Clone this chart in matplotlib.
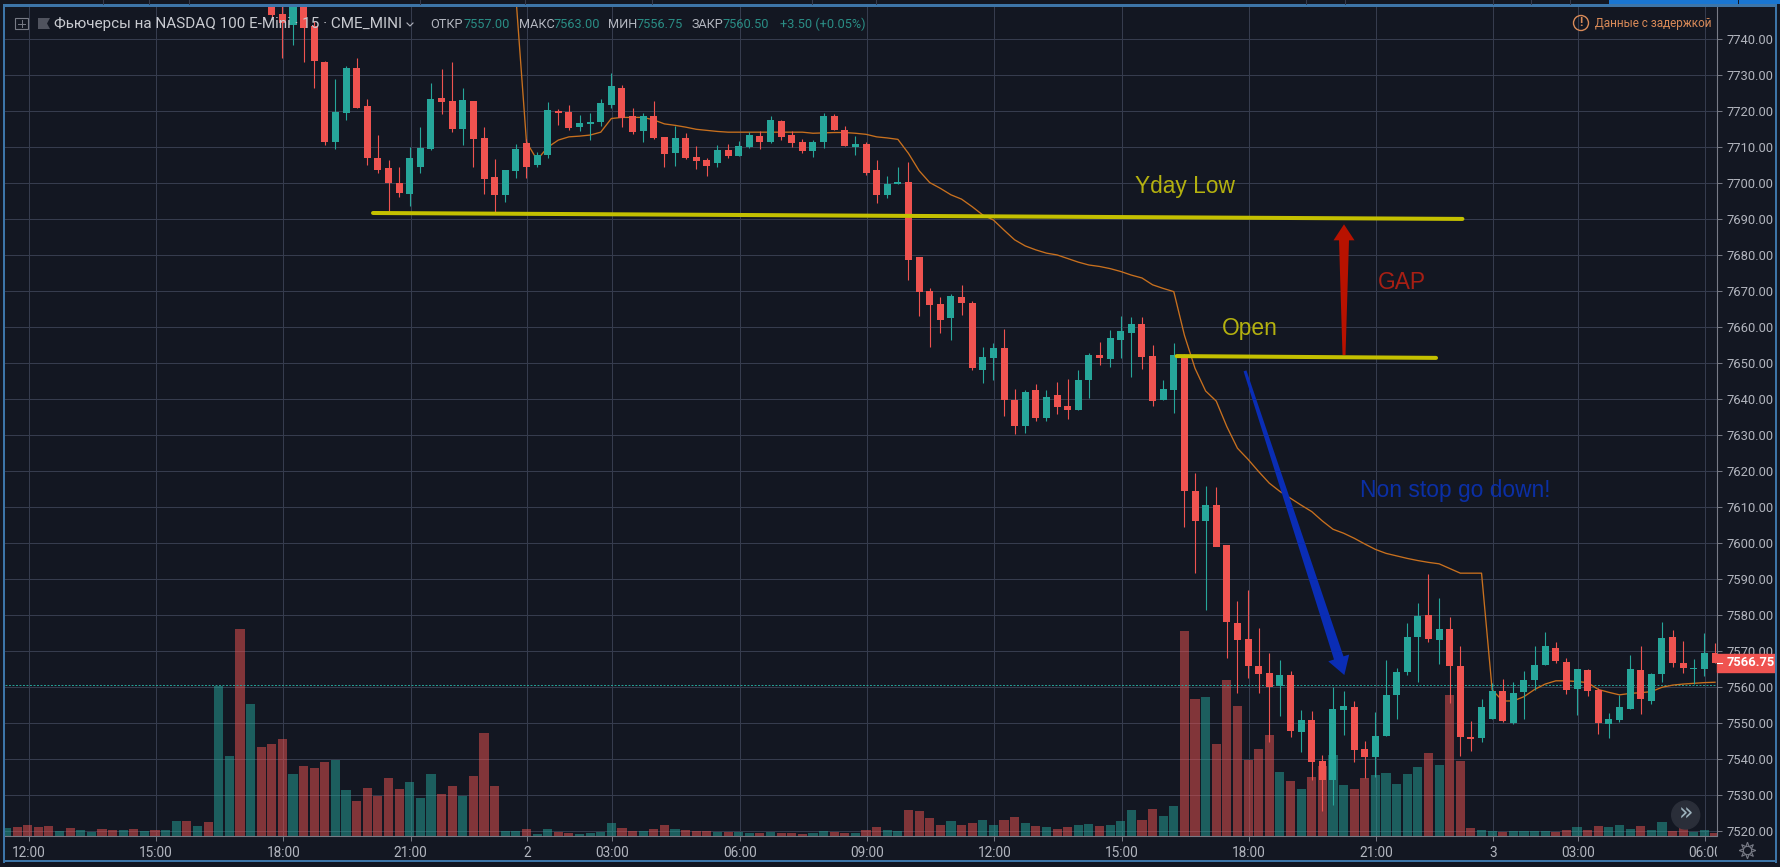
"""Nasdaq 100 E-mini 15 minute chart with hand drawn gap annotations."""

import numpy as np
from matplotlib import pyplot as plt
from matplotlib.lines import Line2D
from matplotlib.patches import Circle, Polygon, Rectangle
from matplotlib.transforms import Bbox

# Candles start at bar 23, earlier ones are above the visible range
FIRST_CANDLE = 23
OPENS = [
    7751, 7747, 7744, 7752, 7743.7, 7733.7, 7711.5, 7719.6, 7732, 7721.4,
    7707, 7704.2, 7700.1, 7697.1, 7704.6, 7709.5, 7723.7, 7722.9, 7715.1, 7722.9,
    7712.6, 7701.8, 7696.8, 7703.4, 7711.2, 7705.1, 7707.9, 7720.1, 7719.8, 7715.6,
    7716.5, 7717.1, 7721.8, 7726.5, 7718.7, 7714.5, 7718.7, 7712.9, 7708.4, 7712.6,
    7707.3, 7706.5, 7705.6, 7709.3, 7707.6, 7710.1, 7713.1, 7711.5, 7717.3, 7713.4,
    7711.5, 7709, 7711.5, 7718.7, 7714.8, 7710.1, 7710.9, 7703.7, 7696.8, 7699.8,
    7700.4, 7679.4, 7670.2, 7666.5, 7662.7, 7668.4, 7666.8, 7648.1, 7651.5, 7654.3,
    7639.8, 7632.6, 7642.6, 7634.8, 7641.2, 7638.1, 7637, 7645.4, 7652.3, 7651.2,
    7656.5, 7658.4, 7660.9, 7652, 7639.8, 7642.6, 7652, 7614.5, 7606.2, 7610.6,
    7599.5, 7577.9, 7573.4, 7565.9, 7564, 7560.4, 7563.4, 7547.6, 7550.9, 7539.5,
    7534.3, 7553.7, 7554.5, 7542.9, 7540.6, 7546.5, 7557.9, 7564.3, 7574, 7580.1,
    7573.1, 7576.2, 7565.9, 7546.2, 7545.9, 7551.2, 7559, 7550.1, 7558.7, 7562,
    7566.2, 7570.9, 7567, 7559.5, 7564.8, 7559.3, 7549.8, 7550.9, 7554, 7564.8,
    7556.2, 7563.7, 7574, 7566.8, 7565, 7565.1, 7569.5,
]
HIGHS = [
    7755, 7752, 7755, 7755, 7745, 7733.9, 7729, 7732.6, 7734.7, 7723.4,
    7713.4, 7706.5, 7704.4, 7710, 7715.6, 7727.8, 7731.7, 7733.7, 7726.4, 7722.9,
    7715.6, 7706.8, 7703.7, 7710.9, 7712.2, 7708.7, 7722.6, 7720.6, 7721.8, 7719,
    7719.5, 7723.5, 7730.6, 7727.3, 7720.9, 7719.5, 7722.9, 7712.9, 7715.9, 7713.9,
    7710.4, 7706.9, 7710.6, 7710.9, 7711.8, 7714.3, 7714.5, 7718.7, 7717.6, 7714.5,
    7712.3, 7712, 7719.5, 7719.3, 7715.9, 7713.1, 7711.5, 7706.5, 7702, 7704.5,
    7705.9, 7679.4, 7670.8, 7668.3, 7669.3, 7671.8, 7667.3, 7654.5, 7655.6, 7659.5,
    7642.9, 7642.6, 7644.3, 7642.6, 7644.8, 7645.6, 7648.1, 7652.9, 7655.9, 7659.3,
    7663.1, 7662.9, 7662.9, 7655.1, 7645.4, 7655.6, 7652.5, 7619.4, 7615.9, 7615.6,
    7599.5, 7583.9, 7587, 7576.5, 7569.5, 7567.6, 7564.5, 7553.7, 7553.4, 7541.2,
    7560.1, 7559, 7556.2, 7545.1, 7553.1, 7567.6, 7565.4, 7577.9, 7583.4, 7591.5,
    7584.8, 7579.5, 7571.5, 7550.6, 7556.8, 7561.2, 7562.3, 7561.5, 7564.5, 7571.5,
    7575.4, 7572.6, 7568.1, 7564.9, 7565.1, 7559.8, 7552.9, 7557.9, 7569, 7571.5,
    7564, 7578.1, 7575.9, 7572.9, 7567.9, 7575.1, 7572.3,
]
LOWS = [
    7746, 7734.9, 7738.4, 7733.8, 7726.4, 7710.5, 7709.6, 7717.6, 7721, 7705,
    7702.9, 7692.1, 7696.3, 7693.8, 7702.9, 7709.3, 7719.3, 7714.3, 7710.6, 7704.6,
    7697, 7692.1, 7694.8, 7701.5, 7701.5, 7704.6, 7707, 7716.2, 7714.8, 7714.5,
    7712, 7716, 7721, 7715.6, 7713.7, 7711.5, 7712.3, 7704.6, 7704.9, 7706.8,
    7704, 7701.9, 7704.6, 7707, 7707.6, 7709.8, 7709.5, 7711.2, 7712, 7710.1,
    7708.4, 7707.3, 7709.8, 7714.8, 7710.4, 7707.9, 7702.3, 7694.5, 7695.9, 7699.8,
    7673.1, 7663.1, 7654.4, 7658.5, 7656.5, 7663.4, 7648, 7644.6, 7645.4, 7635.4,
    7630.4, 7630.7, 7634, 7634, 7635.9, 7634.5, 7637, 7640.4, 7649.5, 7649,
    7651.5, 7646.2, 7648.4, 7638.1, 7639.8, 7636.2, 7604.6, 7591.7, 7581.5, 7603,
    7568, 7558.4, 7562.6, 7558.4, 7544.8, 7552, 7546.2, 7542, 7534.3, 7525.6,
    7527.3, 7546.8, 7539.3, 7534.8, 7535.2, 7546.5, 7551.2, 7563.4, 7561.5, 7572.6,
    7566.5, 7555.6, 7540.9, 7542.3, 7544.8, 7551.2, 7550.4, 7549.8, 7551.2, 7559.3,
    7566.2, 7566.8, 7558.1, 7552.3, 7557.6, 7547, 7545.9, 7550.4, 7554, 7552.6,
    7555.4, 7561.5, 7565.6, 7564, 7560.9, 7563.1, 7566.75,
]
CLOSES = [
    7746.8, 7744.4, 7752, 7743.2, 7734, 7711.5, 7719.8, 7732, 7721, 7707.1,
    7703.7, 7700.1, 7697.3, 7707, 7709.8, 7723.4, 7722.6, 7715.1, 7723.1, 7712.3,
    7701.2, 7696.8, 7703.7, 7709.5, 7704.5, 7707.9, 7720.4, 7719.5, 7715.4, 7716.8,
    7717, 7722.4, 7727, 7718, 7714.3, 7718.7, 7712.6, 7708.1, 7712.6, 7707,
    7706.2, 7704.8, 7709.3, 7707.6, 7710.4, 7713.4, 7711.5, 7717.6, 7712.9, 7711.2,
    7709, 7711.5, 7718.7, 7714.8, 7710.4, 7710.9, 7702.9, 7696.8, 7699.8, 7700.4,
    7678.7, 7669.9, 7666.2, 7661.9, 7668.7, 7666.8, 7648.8, 7651.8, 7654.3, 7639.8,
    7632.6, 7642, 7634.8, 7640.6, 7637.9, 7637, 7645.4, 7652.3, 7651.5, 7657,
    7659, 7660.9, 7651.8, 7639.5, 7642.9, 7652.3, 7614.4, 7606.2, 7610.6, 7598.9,
    7578, 7573.1, 7565.9, 7563.7, 7560.1, 7563.4, 7547.9, 7550.9, 7539.3, 7534.3,
    7554, 7554.8, 7542.6, 7540.6, 7546.5, 7557.9, 7564.3, 7574, 7579.8, 7573.4,
    7576.2, 7565.9, 7546.2, 7545.6, 7554.5, 7559, 7550.6, 7558.4, 7562, 7566.2,
    7571.5, 7567.3, 7559.2, 7565, 7558.9, 7550.1, 7551.2, 7554.5, 7565.1, 7556.8,
    7563.7, 7573.7, 7566.8, 7565.4, 7565.2, 7569.5, 7566.75,
]

# Volume starts at bar -2, colours of the bars without a visible candle are listed
FIRST_VOLUME = -2
VOLUME = [
    8, 9, 11, 9, 10, 5, 8, 6, 4, 7, 6, 6, 7, 5, 6, 6, 15, 14.3, 9.3, 13.3,
    149.3, 79.3, 206.3, 131.3, 88.3, 91.3, 96.3, 61.3, 69.3, 67.3, 73.3, 75.3, 45.3, 34.3, 47.3, 39.3,
    57.3, 46.3, 53.3, 37.3, 61.3, 41.3, 49.3, 39.3, 59.3, 102.3, 49.3, 4.3, 4.3, 6.3, 1.3, 6.3, 4,
    2.3, 1.3, 2.3, 3.7, 12.3, 7.3, 4.3, 4.3, 6.3, 10.3, 6.3, 5.3, 4.3, 4.3, 3.7, 3.7, 3.7, 2.3,
    2.3, 3.7, 2.3, 2.3, 1.3, 2.3, 4.3, 3.7, 2.3, 2.3, 5.3, 8.3, 5.3, 4.3, 25.3, 24.3, 17.3, 10.3,
    14.3, 10.3, 12.3, 15.3, 10.3, 15.3, 18.3, 12.3, 9.3, 8.3, 6.3, 8.3, 10.3, 11.3, 9.3, 10.3, 14.3,
    25.3, 15.3, 26.3, 19.3, 29.3, 204.3, 136.3, 138.3, 91.3, 155.3, 129.3, 75.3, 86.3, 100.3, 63.3,
    54.3, 46.3, 58.3, 69.3, 80.3, 50.3, 46.3, 57.3, 60.3, 62.3, 51.3, 61.3, 68.3, 82.3, 70.3, 140.3,
    74.3, 7.3, 5.3, 4.3, 3.3, 4.3, 4.3, 4.3, 4.3, 3.3, 5.3, 8.3, 5.3, 9.3, 8.3, 10.3, 6.3, 9.3, 5.3,
    13.3, 4.3, 7.3, 3.3, 5.3, 2.3,
]
EARLY_VOLUME_UP = [
    1, 0, 0, 0, 0, 1, 0, 1, 1, 0, 0, 1, 0, 1, 0, 1, 1, 0, 1, 0, 1, 1, 0, 1, 0,
]

# Moving line from bar 46 on
FIRST_MA = 46
MA = [
    7752, 7711.5, 7706.5, 7710, 7712, 7712.9, 7713.1, 7713.4, 7714.2, 7718, 7718.3, 7718.3,
    7718.3, 7717.6, 7716.5, 7716.1, 7715.6, 7715, 7714.7, 7714.4, 7714.2, 7714.2, 7714.2,
    7714.2, 7714.2, 7714.2, 7714.2, 7714.2, 7713.9, 7714, 7714.1, 7714.1, 7713.9, 7713.6,
    7712.9, 7712.6, 7712.2, 7708.3, 7703.5, 7700.2, 7698.6, 7696.8, 7695.6, 7693.5, 7691.2,
    7689.8, 7687, 7684.3, 7682.6, 7681.5, 7680.6, 7680.1, 7679.1, 7678.1, 7677.3, 7676.9,
    7676.3, 7675.5, 7674.5, 7673.7, 7671.8, 7670.8, 7669.9, 7657.8, 7648.6, 7642.3, 7639.5,
    7632.4, 7626.4, 7623.3, 7619.9, 7616.7, 7614.4, 7612.5, 7610.6, 7608.8, 7606.2, 7603.9,
    7602.8, 7601.4, 7599.8, 7598.3, 7597.2, 7596.5, 7595.8, 7595.2, 7594.7, 7594.3, 7593,
    7591.7, 7591.7, 7591.7, 7559.3, 7556.2, 7556.2, 7557.4, 7559.4, 7560.9, 7561.8, 7561.8,
    7561.6, 7561.3, 7559.4, 7558.6, 7557.9, 7558.3, 7558.5, 7558.8, 7560, 7560.6, 7560.9,
    7561.1, 7561.3, 7561.4,
]

TIME_TICK_BARS = [0, 12, 24, 36, 47, 55, 67, 79, 91, 103, 115, 127, 138, 146, 158]
TIME_TICK_LABELS = [
    "12:00", "15:00", "18:00", "21:00", "2", "03:00", "06:00", "09:00",
    "12:00", "15:00", "18:00", "21:00", "3", "03:00", "06:00",
]
PRICE_TICKS = list(range(7520, 7750, 10))
PREV_CLOSE = 7560.5
LAST_PRICE = 7566.75

BG = "#131722"
GRID = "#363c4e"
AXIS = "#787b86"
LABEL = "#b2b5be"
UP = "#26a69a"
DOWN = "#ef5350"
FRAME = "#3d75a8"
YELLOW = "#c4c000"
YELLOW_TEXT = "#b4b10f"
WARN = "#d98a58"
RED_ARROW = "#b81200"
BLUE_ARROW = "#0a2db5"

W, H = 1780, 867


def fx(x):
    return x / W


def fy(y):
    return 1 - y / H


def arrow(ax, start, tip, start_w, end_w, head_w, head_len, color):
    """Tapered marker-pen arrow, widths are in pixels."""
    p0, p1 = ax.transData.transform([start, tip])
    d = (p1 - p0) / np.linalg.norm(p1 - p0)
    n = np.array([-d[1], d[0]])
    neck = p1 - d * head_len
    pts = [
        p0 + n * start_w / 2, neck + n * end_w / 2, neck + n * head_w / 2, p1,
        neck - n * head_w / 2, neck - n * end_w / 2, p0 - n * start_w / 2,
    ]
    ax.add_patch(Polygon(pts, closed=True, color=color, lw=0, transform=None, zorder=7))


fig = plt.figure(figsize=(W / 100, H / 100), dpi=100, facecolor=BG)
ax = fig.add_axes([fx(5), fy(835.5), fx(1712), 828.5 / H], facecolor=BG)
px_per_bar = 10.612
ax.set_xlim((5 - 27.7) / px_per_bar, (1717 - 27.7) / px_per_bar)
ax.set_ylim(7518.83, 7748.97)

# The tick of a bar sits a pixel right of its centre
tick_shift = 0.094
ax.set_xticks([b + tick_shift for b in TIME_TICK_BARS])
ax.set_xticklabels(TIME_TICK_LABELS)
ax.set_yticks(PRICE_TICKS)
ax.set_yticklabels([f"{p:.2f}" for p in PRICE_TICKS])
ax.yaxis.tick_right()
ax.grid(True, color=GRID, lw=0.75, zorder=0)
ax.set_axisbelow(True)
for side in ("top", "left"):
    ax.spines[side].set_visible(False)
for side in ("right", "bottom"):
    ax.spines[side].set_color(AXIS)
    ax.spines[side].set_linewidth(0.8)
ax.tick_params(axis="both", colors=AXIS, length=3.6, width=0.7, labelcolor=LABEL)
ax.tick_params(axis="y", labelsize=9.4, pad=3.5)
ax.tick_params(axis="x", labelsize=9.8, pad=4)
for label in ax.get_yticklabels() + ax.get_xticklabels():
    label.set_family("Roboto")
# The last time label is cut by the price scale
ax.get_xticklabels()[-1].set_clip_box(Bbox([[0, 0], [1717, H]]))
ax.get_xticklabels()[-1].set_clip_on(True)

opens, highs = np.array(OPENS), np.array(HIGHS)
lows, closes = np.array(LOWS), np.array(CLOSES)
candle_x = FIRST_CANDLE + np.arange(len(opens))
is_up = closes >= opens
candle_colors = np.where(is_up, UP, DOWN)

# Volume, as a share of the pane height
volume = np.array(VOLUME)
volume_x = FIRST_VOLUME + np.arange(len(volume))
volume_up = list(EARLY_VOLUME_UP) + list(is_up)
volume_colors = [UP if u else DOWN for u in volume_up]
ax.bar(
    volume_x, volume / 828.5, width=0.86, color=volume_colors, alpha=0.5,
    transform=ax.get_xaxis_transform(), zorder=2,
)

ax.axhline(PREV_CLOSE, color=UP, lw=0.7, ls=(0, (2, 1.6)), zorder=3)
ax.plot(FIRST_MA + np.arange(len(MA)), MA, color="#c8701e", lw=0.95, zorder=3.5)

ax.vlines(candle_x, lows, highs, colors=candle_colors, lw=0.8, zorder=4)
body_low = np.minimum(opens, closes)
body_height = np.maximum(np.abs(closes - opens), 0.3)
ax.bar(candle_x, body_height, bottom=body_low, width=0.66, color=candle_colors, zorder=5)

# Hand drawn levels and arrows
ax.plot([32.54, 135.2], [7691.75, 7690.1], color=YELLOW, lw=2.9, zorder=6, solid_capstyle="round")
ax.plot([108.27, 132.71], [7652.0, 7651.5], color=YELLOW, lw=2.9, zorder=6, solid_capstyle="round")
arrow(ax, (124.04, 7652.3), (124.04, 7688.6), 3, 10, 21, 16, RED_ARROW)
arrow(ax, (114.71, 7647.9), (124.07, 7563.4), 3, 10, 22, 18, BLUE_ARROW)

note_font = dict(family="Liberation Sans", fontsize=16.4, va="center", ha="left", zorder=8)
ax.text(104.3, 7699.1, "Yday Low", color=YELLOW_TEXT, **note_font)
ax.text(112.5, 7659.8, "Open", color=YELLOW_TEXT, **note_font)
ax.text(127.2, 7672.5, "GAP", color="#a81f14", **note_font)
ax.text(125.5, 7614.8, "Non stop go down!", color="#0b2fa6", **note_font)

# Last price tag on the scale
tag_trans = ax.get_yaxis_transform()
ax.add_patch(Rectangle(
    (1.0, LAST_PRICE - 2.46), 58 / 1712, 4.92, transform=tag_trans,
    color=DOWN, clip_on=False, zorder=9,
))
ax.plot([1.0, 1.003], [LAST_PRICE, LAST_PRICE], color="white", lw=0.8,
        transform=tag_trans, clip_on=False, zorder=10)
ax.text(1.0055, LAST_PRICE, "7566.75", transform=tag_trans, color="white",
        family="Roboto", fontweight="bold", fontsize=9.4, va="center", ha="left",
        clip_on=False, zorder=10)

# Chart header
head = dict(family="Roboto", va="center", ha="left")
fig.text(fx(54), fy(24), "Фьючерсы на NASDAQ 100 E-Mini · 15 · CME_MINI",
         color="#c8cad0", fontsize=10.95, **head)
for x, text, color in [
    (430.5, "ОТКР", LABEL), (464, "7557.00", "#2a8d85"),
    (518.6, "МАКС", LABEL), (553.8, "7563.00", "#2a8d85"),
    (608.4, "МИН", LABEL), (636.4, "7556.75", "#2a8d85"),
    (692, "ЗАКР", LABEL), (722.8, "7560.50", "#2a8d85"),
    (780, "+3.50 (+0.05%)", "#2a8d85"),
]:
    fig.text(fx(x), fy(24.5), text, color=color, fontsize=9.2, **head)
fig.text(fx(1595), fy(23.5), "Данные с задержкой", color=WARN, fontsize=8.45, **head)
fig.add_artist(Circle((1581, H - 23), 7.5, transform=None, fill=False, ec=WARN, lw=1))
fig.text(fx(1581), fy(23), "!", color=WARN, fontsize=9, family="Roboto", fontweight="bold",
         ha="center", va="center")

# Small toolbar icons
fig.add_artist(Rectangle((fx(15), fy(29)), 13 / W, 11 / H, transform=fig.transFigure,
                         fill=False, ec="#787b86", lw=0.8))
fig.add_artist(Line2D([fx(21.5), fx(21.5)], [fy(20), fy(27)], color="#787b86", lw=0.7))
fig.add_artist(Line2D([fx(18), fx(25)], [fy(23.5), fy(23.5)], color="#787b86", lw=0.7))
fig.add_artist(Polygon(
    [(fx(38), fy(18)), (fx(50), fy(18)), (fx(47), fy(23.5)), (fx(50), fy(29)), (fx(38), fy(29))],
    transform=fig.transFigure, color="#50535e", lw=0,
))
fig.add_artist(Line2D([fx(407), fx(410), fx(413)], [fy(23), fy(26), fy(23)], color=LABEL, lw=0.8))

# Scroll button and settings icon
ax.add_patch(Circle((1685.7, H - 815), 14, transform=None, color="#2a2e39", zorder=9))
fig.text(fx(1685.7), fy(813.5), "»", color="#9db2bd", fontsize=17, family="DejaVu Sans",
         ha="center", va="center", zorder=10)
fig.add_artist(Line2D([fx(1746.7)], [fy(850)], marker=(8, 1, 0), ms=12, mfc=BG, mec=AXIS, mew=0.8))
fig.add_artist(Line2D([fx(1746.7)], [fy(850)], marker="o", ms=6, mfc=BG, mec=AXIS, mew=0.8))

# Window frame around the pane
for x0, y0, w, h in [(3, 4.5, 2.2, 858), (3, 4.5, 1774, 2.4), (3, 860, 1774, 2.4), (1774.5, 4.5, 2.2, 858)]:
    fig.add_artist(Rectangle((fx(x0), fy(y0 + h)), w / W, h / H, transform=fig.transFigure,
                             color=FRAME, lw=0))
fig.add_artist(Rectangle((fx(1608.6), fy(4)), 129.4 / W, 4 / H, transform=fig.transFigure,
                         color="#1976d2", lw=0))
fig.add_artist(Rectangle((fx(1739), fy(4)), 41 / W, 4 / H, transform=fig.transFigure,
                         color="#1976d2", lw=0))
for x in [103, 149, 189, 420, 525, 652, 812, 875.5, 1306, 1345, 1492.7, 1531, 1570]:
    fig.add_artist(Line2D([fx(x), fx(x)], [fy(0), fy(4)], color=GRID, lw=0.7))

fig.savefig("out.png", dpi=100, facecolor=BG)
